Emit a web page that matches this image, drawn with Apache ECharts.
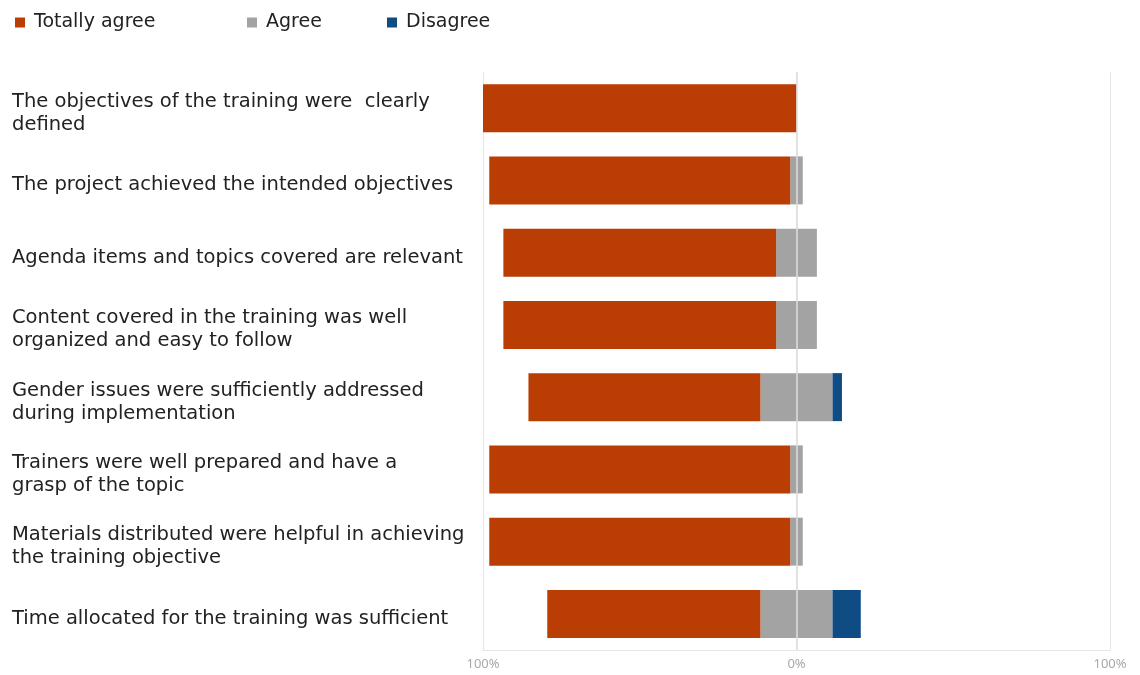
<!DOCTYPE html>
<html>
<head>
<meta charset="utf-8">
<script src="https://cdn.jsdelivr.net/npm/echarts@6/dist/echarts.min.js"></script>
<style>
  html, body { margin: 0; padding: 0; background: #ffffff; }
  #chart { width: 1140px; height: 675px; }
</style>
</head>
<body>
<div id="chart"></div>
<script>
// Survey statements (top to bottom)
const categories = [
  'The objectives of the training were  clearly\ndefined',
  'The project achieved the intended objectives',
  'Agenda items and topics covered are relevant',
  'Content covered in the training was well\norganized and easy to follow',
  'Gender issues were sufficiently addressed\nduring implementation',
  'Trainers were well prepared and have a\ngrasp of the topic',
  'Materials distributed were helpful in achieving\nthe training objective',
  'Time allocated for the training was sufficient'
];

// Share of responses, in percent
const totallyAgree = [100, 96, 87, 87, 74, 96, 96, 68];
const agree        = [0,   4,  13, 13, 23, 4,  4,  23];
const disagree     = [0,   0,  0,  0,  3,  0,  0,  9];

// Tick labels of the diverging axis
const tickValues = [-100, 0, 100];
const tickLabels = ['100%', '0%', '100%'];

const COLORS = {
  totallyAgree: '#BA3D03',
  agree: '#A3A3A3',
  disagree: '#0F4C84'
};

const FONT = '"DejaVu Sans", sans-serif';
const SMALL_FONT = '"Noto Sans", sans-serif';

// "Agree" is centred on 0%: half of it to the left, half to the right.
const agreeLeft  = agree.map(v => -v / 2);
const agreeRight = agree.map(v => v / 2);
const totallyAgreeLeft = totallyAgree.map(v => -v);

const chart = echarts.init(document.getElementById('chart'), null, { renderer: 'canvas' });

function legendAt(name, left) {
  return {
    data: [name],
    left: left,
    top: 13,
    padding: 0,
    icon: 'rect',
    itemWidth: 10,
    itemHeight: 10,
    itemGap: 0,
    selectedMode: false,
    textStyle: { fontFamily: FONT, fontSize: 19, color: '#222222', padding: [0, 0, 0, 4] }
  };
}

const barCommon = {
  type: 'bar',
  stack: 'total',
  barWidth: 48,
  silent: true
};

chart.setOption({
  animation: false,
  backgroundColor: '#ffffff',
  legend: [
    legendAt('Totally agree', 15),
    legendAt('Agree', 247),
    legendAt('Disagree', 387)
  ],
  grid: [
    // plot area
    { left: 483, right: 30, top: 72, bottom: 25, containLabel: false },
    // statement labels, set slightly lower than the bar centres
    { left: 483, right: 30, top: 77, bottom: 20, containLabel: false }
  ],
  xAxis: [
    {
      type: 'value',
      gridIndex: 0,
      min: -100,
      max: 100,
      interval: 100,
      axisLine: { show: true, onZero: false, lineStyle: { color: '#e6e6e6', width: 1 } },
      axisTick: { show: false },
      splitLine: { show: true, lineStyle: { color: '#e6e6e6', width: 1 } },
      axisLabel: {
        margin: 8,
        fontFamily: SMALL_FONT,
        fontSize: 13,
        color: '#a8a8a8',
        formatter: function (v) {
          const i = tickValues.indexOf(v);
          return i >= 0 ? tickLabels[i] : '';
        }
      }
    },
    {
      type: 'value',
      gridIndex: 1,
      min: -100,
      max: 100,
      show: false
    }
  ],
  yAxis: [
    {
      type: 'category',
      gridIndex: 0,
      data: categories,
      inverse: true,
      axisLine: { show: true, onZero: false, lineStyle: { color: '#e6e6e6' } },
      axisTick: { show: false },
      splitLine: { show: false },
      axisLabel: { show: false }
    },
    {
      type: 'category',
      gridIndex: 1,
      data: categories,
      inverse: true,
      axisLine: { show: false },
      axisTick: { show: false },
      splitLine: { show: false },
      axisLabel: {
        align: 'left',
        margin: 471,
        fontFamily: FONT,
        fontSize: 19.5,
        lineHeight: 23,
        color: '#222222'
      }
    }
  ],
  series: [
    Object.assign({}, barCommon, {
      name: 'Agree',
      data: agreeLeft,
      itemStyle: { color: COLORS.agree }
    }),
    Object.assign({}, barCommon, {
      name: 'Totally agree',
      data: totallyAgreeLeft,
      itemStyle: { color: COLORS.totallyAgree }
    }),
    Object.assign({}, barCommon, {
      name: 'Agree',
      data: agreeRight,
      itemStyle: { color: COLORS.agree }
    }),
    Object.assign({}, barCommon, {
      name: 'Disagree',
      data: disagree,
      itemStyle: { color: COLORS.disagree },
      markLine: {
        silent: true,
        symbol: 'none',
        label: { show: false },
        lineStyle: { color: '#dcdcdc', width: 1.5, type: 'solid' },
        data: [{ xAxis: 0 }]
      }
    })
  ]
});
</script>
</body>
</html>
